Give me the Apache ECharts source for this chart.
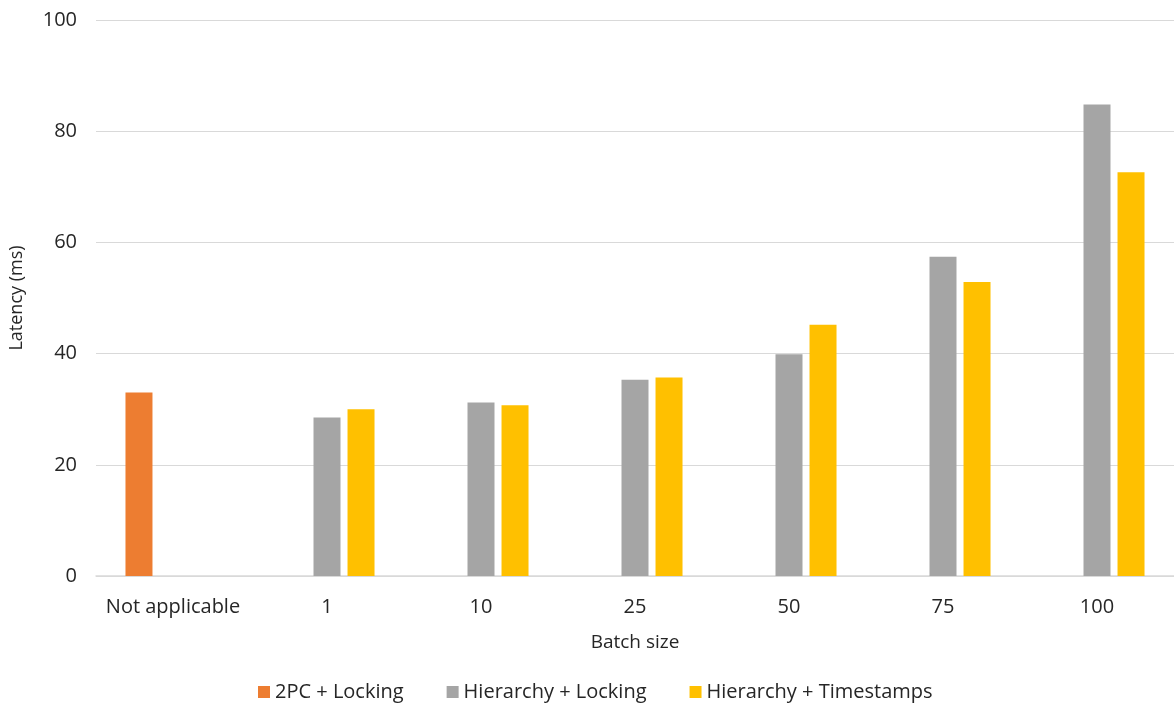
<!DOCTYPE html>
<html>
<head>
<meta charset="utf-8">
<script src="https://cdn.jsdelivr.net/npm/echarts@6/dist/echarts.min.js"></script>
<style>
  html, body { margin: 0; padding: 0; background: #fff; }
  #chart { width: 1174px; height: 707px; }
</style>
</head>
<body>
<div id="chart"></div>
<script>
// Latency per batch size for each protocol
const categories = ['Not applicable', '1', '10', '25', '50', '75', '100'];
const twoPcLocking = [33.0, null, null, null, null, null, null];
const hierarchyLocking = [null, 28.5, 31.2, 35.3, 39.9, 57.4, 84.8];
const hierarchyTimestamps = [null, 30.0, 30.7, 35.7, 45.2, 52.9, 72.6];
const seriesNames = ['2PC + Locking', 'Hierarchy + Locking', 'Hierarchy + Timestamps'];
const yTicks = [0, 20, 40, 60, 80, 100];

const FONT = '"Open Sans", "Noto Sans", sans-serif';
const TEXT = '#262626';

const chart = echarts.init(document.getElementById('chart'));

const barStyle = (color) => ({
  type: 'bar',
  barWidth: 27,
  barGap: '26%',
  itemStyle: { color: color },
  emphasis: { disabled: true }
});

chart.setOption({
  animation: false,
  textStyle: { fontFamily: FONT, color: TEXT },
  grid: { left: 96, right: -2, top: 20, bottom: 131, containLabel: false },
  legend: {
    bottom: 0,
    left: 253,
    itemWidth: 12,
    itemHeight: 12,
    itemGap: 43,
    icon: 'rect',
    data: seriesNames,
    textStyle: { fontFamily: FONT, fontSize: 20, color: TEXT }
  },
  xAxis: {
    type: 'category',
    data: categories,
    name: 'Batch size',
    nameLocation: 'middle',
    nameGap: 57,
    nameTextStyle: { fontFamily: FONT, fontSize: 19, color: TEXT },
    axisLine: { lineStyle: { color: '#d9d9d9', width: 1.5 } },
    axisTick: { show: false },
    axisLabel: { interval: 0, fontFamily: FONT, fontSize: 20, color: TEXT, margin: 21 }
  },
  yAxis: {
    type: 'value',
    min: yTicks[0],
    max: yTicks[yTicks.length - 1],
    interval: 20,
    name: 'Latency (ms)',
    nameLocation: 'middle',
    nameGap: 70,
    nameRotate: 90,
    nameTextStyle: { fontFamily: FONT, fontSize: 18, color: TEXT },
    axisLine: { show: false },
    axisTick: { show: false },
    axisLabel: { fontFamily: FONT, fontSize: 20, color: TEXT, margin: 19 },
    splitLine: { lineStyle: { color: '#d9d9d9', width: 1.2 } }
  },
  series: [
    Object.assign(barStyle('#ed7d31'), { name: seriesNames[0], data: twoPcLocking }),
    Object.assign(barStyle('#a5a5a5'), { name: seriesNames[1], data: hierarchyLocking }),
    Object.assign(barStyle('#ffc000'), { name: seriesNames[2], data: hierarchyTimestamps })
  ]
});
</script>
</body>
</html>
